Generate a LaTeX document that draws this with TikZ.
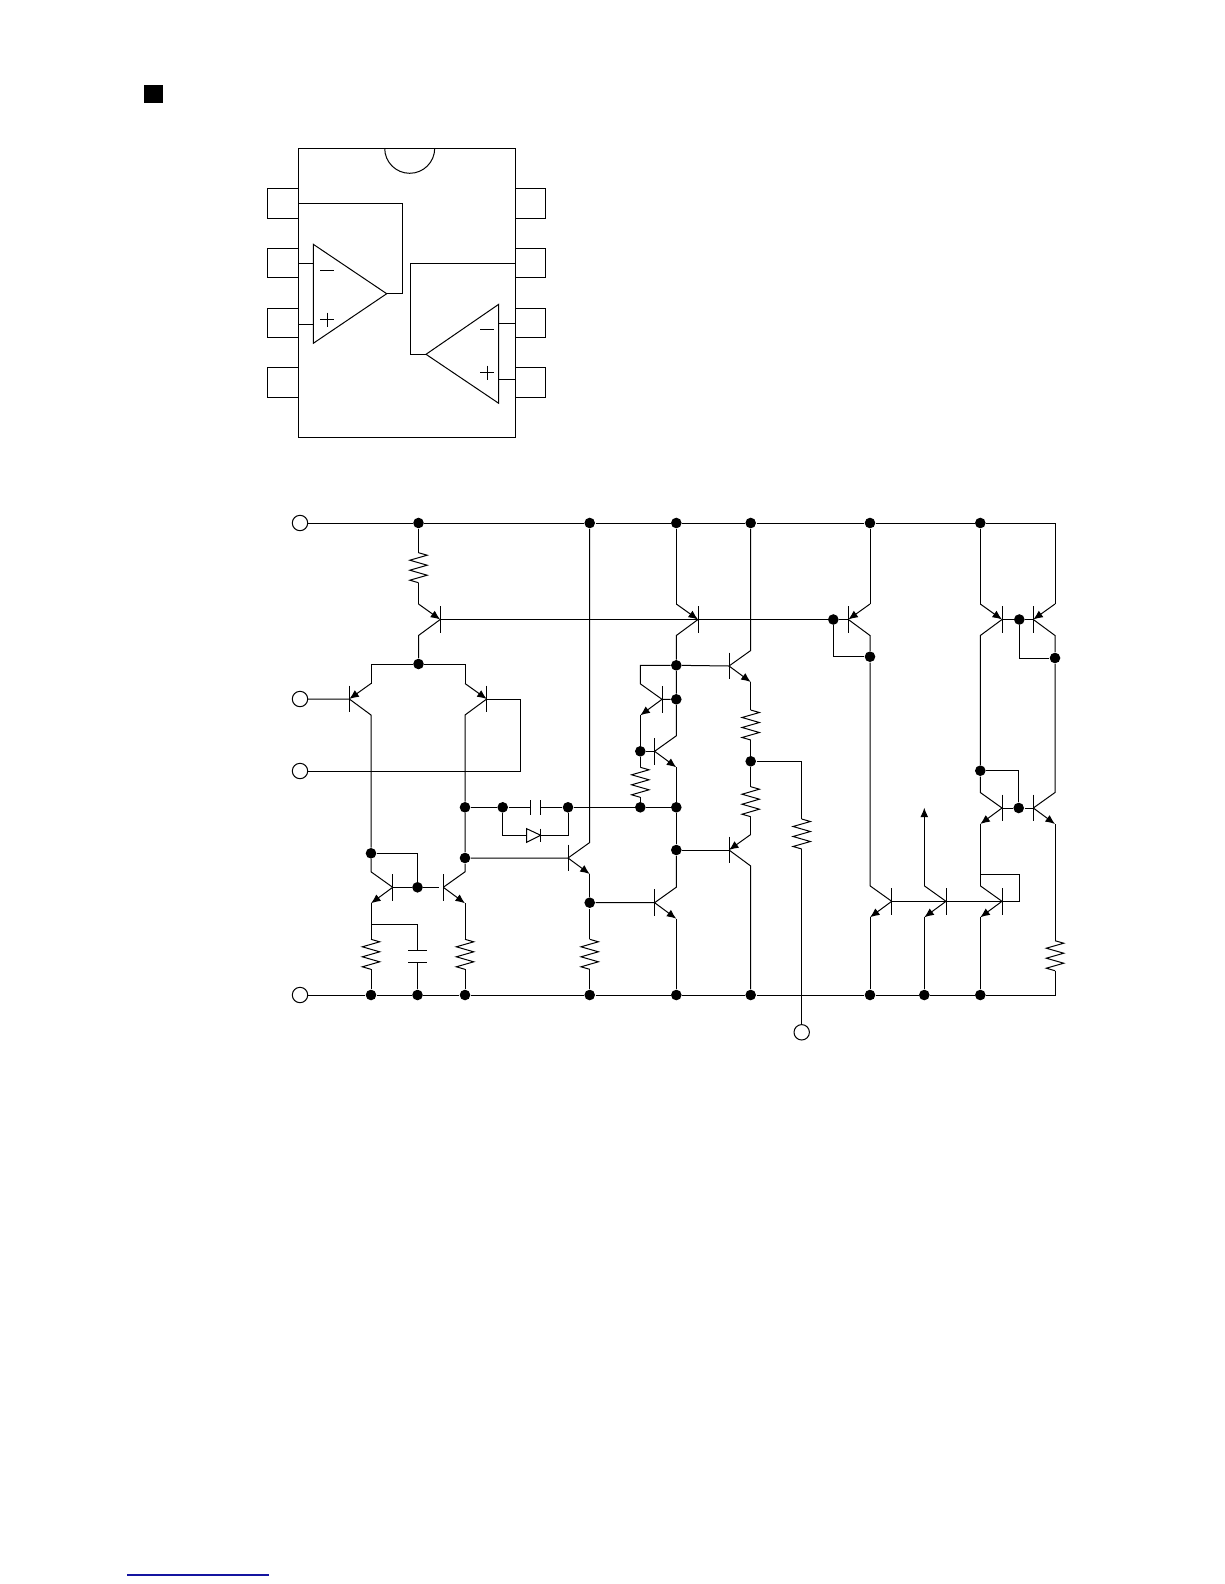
\documentclass[tikz,border=0pt]{standalone}
\usepackage{tikz}
\usetikzlibrary{arrows.meta}
\definecolor{linkblue}{RGB}{20,20,160}
\tikzset{
	dot/.style={circle,fill=black,inner sep=0pt,minimum size=10.6pt},
	term/.style={circle,draw,fill=white,inner sep=0pt,minimum size=15.4pt},
	emit/.style={-{Latex[length=9.5pt,width=8pt]}},
}
% base bar of a transistor: name, x, y, side of the leads
\newcommand{\qbar}[4]{
	\coordinate (#1-b) at (#2,#3);
	\coordinate (#1-t) at ({#2+#4*21.7},{#3-15.5});
	\coordinate (#1-u) at ({#2+#4*21.7},{#3+16});
	\draw (#2,#3-13.3) -- (#2,#3+13.3);
}
% resistor: name, x, top y
\newcommand{\zres}[3]{
	\coordinate (#1-a) at (#2,#3);
	\coordinate (#1-z) at (#2,#3+30);
	\draw (#1-a) -- ++(8.7,2.5) -- ++(-17.4,5) -- ++(17.4,5) -- ++(-17.4,5) -- ++(17.4,5) -- ++(-17.4,5) -- (#1-z);
}
\begin{document}
\begin{tikzpicture}[x=1pt,y=-1pt,line width=1pt,line join=miter]
	\useasboundingbox (0,0) rectangle (1224,1584);
	\fill (144,85) rectangle (162.7,103.3);
	\draw[linkblue,line width=1.3pt] (127,1575) -- (269,1575);

	% package
	\draw (298.3,148.3) rectangle (515,437.3);
	\draw (384.7,148.3) arc[start angle=180,end angle=0,radius=25];
	\foreach \y in {188.3, 248, 308, 367.7} {
		\draw (298.3,\y) -- (267.7,\y) -- (267.7,\y+29.7) -- (298.3,\y+29.7);
		\draw (515,\y) -- (545.7,\y) -- (545.7,\y+29.7) -- (515,\y+29.7);
	}

	% left amplifier
	\draw (313.3,244.3) -- (386.7,293.7) -- (313.3,343.3) -- cycle;
	\draw (386.7,293.7) -- (402.3,293.7) -- (402.3,203.3) -- (298.3,203.3);
	\draw (298.3,263.7) -- (313.3,263.7);
	\draw (298.3,324.3) -- (313.3,324.3);
	\draw (320.3,270.7) -- (334,270.7);
	\draw (320.3,319.7) -- (334,319.7) (327,312.7) -- (327,326.7);

	% right amplifier
	\draw (498.7,304.3) -- (426,354.3) -- (498.7,403.3) -- cycle;
	\draw (426,354.3) -- (410.3,354.3) -- (410.3,263.7) -- (515,263.7);
	\draw (515,323.7) -- (498.7,323.7);
	\draw (515,379) -- (498.7,379);
	\draw (480.3,329) -- (494,329);
	\draw (480.3,372.7) -- (494,372.7) (487,365.7) -- (487,379.7);

	% terminals
	\node[term] (tma) at (300,523) {};
	\node[term] (tmb) at (300,699) {};
	\node[term] (tmc) at (300,771) {};
	\node[term] (tmd) at (300,995) {};
	\node[term] (tme) at (801.7,1032.3) {};

	% rails
	\foreach \n/\x in {1/418.5, 2/589.7, 3/676.3, 4/750.7, 5/870, 6/980.3}
		\node[dot] (tr\n) at (\x,523) {};
	\foreach \n/\x in {1/371, 2/417.5, 3/465, 4/589.7, 5/676.3, 6/750.7, 7/870, 8/924.3, 9/980.3}
		\node[dot] (br\n) at (\x,995) {};
	\coordinate (tre) at (1055,523);
	\coordinate (bre) at (1055,995);

	% junctions
	\foreach \n/\x/\y in {sum/418.5/664, q/371/853.3, m/417.5/887.3, n/465/807.3, p/465/858,
		ca/502.7/807.3, cb/568/807.3, g/589.7/902.7, e/640.3/807.3, f/676.3/807.3, h/676.3/850,
		i/676.3/665.3, j/676.3/699.3, k/640.3/751.3, l/750.7/761.3, o/833.3/619.5, r/870/656.7,
		s/1019.3/619.5, v/1055/658, w/980.3/770.7, z/1018.7/808}
		\node[dot] (d\n) at (\x,\y) {};

	% transistors
	\foreach \n/\x/\y/\s in {a/440.2/619.5/-1, b/349.3/699/1, c/486.7/699/-1, d/392.7/887.3/-1,
		e/443.3/887.3/1, f/568/858/1, g/654.6/902.7/1, h/729/850/1, i/729/666/1, j/662/699.3/-1,
		k/654.6/751.3/1, l/698/619.5/-1, m/848.3/619.5/1, n/891.7/901.3/-1, o/946/901.3/-1,
		p/1002/901.3/-1, r/1002/808/-1, s/1033.3/808/1, t/1002/619.5/-1, u/1033.3/619.5/1}
		{\qbar{q\n}{\x}{\y}{\s}}

	% resistors
	\zres{ra}{418.5}{552.7}
	\zres{rb}{371}{939.3}
	\zres{rc}{465}{939.3}
	\zres{rd}{589.7}{939.3}
	\zres{re}{640.3}{767.3}
	\zres{rf}{750.7}{710}
	\zres{rg}{750.7}{786.7}
	\zres{rh}{801.7}{819}
	\zres{rj}{1055}{940.7}

	\draw (tma) -- (tr1) -- (tr2) -- (tr3) -- (tr4) -- (tr5) -- (tr6) -- (tre) -- (qu-t);
	\draw (tmd) -- (br1) -- (br2) -- (br3) -- (br4) -- (br5) -- (br6) -- (br7) -- (br8) -- (br9) -- (bre) -- (rj-z);

	% input stage
	\draw (tr1) -- (ra-a) (ra-z) -- (qa-t);
	\draw[emit] (qa-t) -- (qa-b);
	\draw (qa-b) -- (qa-u) -- (dsum);
	\draw (qb-t) |- (dsum) -| (qc-t);
	\draw[emit] (qb-t) -- (qb-b);
	\draw[emit] (qc-t) -- (qc-b);
	\draw (tmb) -- (qb-b) -- (qb-u) -- (dq);
	\draw (qc-b) -- (520.3,699) -- (520.3,771) -- (tmc);
	\draw (qc-b) -- (qc-u) -- (dn) -- (dp) -- (qe-t) -- (qe-b);
	\draw (dq) -- (qd-t) -- (qd-b);
	\draw (dq) -| (dm);
	\draw (qd-b) -- (dm) -- (439.3,887.3);
	\draw[emit] (qd-b) -- (qd-u);
	\draw[emit] (qe-b) -- (qe-u);
	\draw (qd-u) -- (rb-a) (rb-z) -- (br1);
	\draw (qe-u) -- (rc-a) (rc-z) -- (br3);
	\coordinate (capc) at (417.5,950.7);
	\coordinate (capd) at (417.5,962.7);
	\draw (371,924.7) -| (capc) (capd) -- (br2);
	\draw (408.2,950.7) -- (426.8,950.7) (408.2,962.7) -- (426.8,962.7);

	% compensation
	\coordinate (capa) at (530.3,807.3);
	\coordinate (capb) at (540.7,807.3);
	\coordinate (dioa) at (526.7,835.3);
	\coordinate (diob) at (540.7,835.3);
	\draw (dn) -- (dca) -- (capa) (capb) -- (dcb) -- (de) -- (df);
	\draw (530.3,800) -- (530.3,815.3) (540.7,800) -- (540.7,815.3);
	\draw (dca) |- (dioa) (diob) -| (dcb);
	\draw (dioa) -- (526.7,828.7) -- (diob) -- (526.7,842.3) -- cycle;
	\draw (540.7,828.7) -- (540.7,842.3);

	% driver
	\draw (dp) -- (qf-b) -- (qf-t) -- (tr2);
	\draw[emit] (qf-b) -- (qf-u);
	\draw (qf-u) -- (dg) -- (rd-a) (rd-z) -- (br4);
	\draw (dg) -- (qg-b) -- (qg-t) -- (dh);
	\draw[emit] (qg-b) -- (qg-u);
	\draw (qg-u) -- (br5);
	\draw (qa-b) -- (ql-b) -- (do) -- (qm-b);
	\draw (tr3) -- (ql-t);
	\draw[emit] (ql-t) -- (ql-b);
	\draw (ql-b) -- (ql-u) -- (di) -- (dj) -- (qk-t) -- (qk-b);
	\draw (di) -- (qi-b) -- (qi-t) -- (tr4);
	\draw[emit] (qi-b) -- (qi-u);
	\draw (qi-u) -- (rf-a) (rf-z) -- (dl) -- (rg-a) (rg-z) -- (qh-t);
	\draw (di) -- (640.3,665.3) -- (qj-t) -- (qj-b) -- (dj);
	\draw[emit] (qj-b) -- (qj-u);
	\draw (qj-u) -- (dk) -- (re-a) (re-z) -- (de);
	\draw (dk) -- (qk-b);
	\draw[emit] (qk-b) -- (qk-u);
	\draw (qk-u) -- (df) -- (dh) -- (qh-b);
	\draw[emit] (qh-t) -- (qh-b);
	\draw (qh-b) -- (qh-u) -- (br6);
	\draw (dl) -| (rh-a) (rh-z) -- (tme);

	% current sources
	\draw (tr5) -- (qm-t);
	\draw[emit] (qm-t) -- (qm-b);
	\draw (qm-b) -- (qm-u) -- (dr) -- (qn-t) -- (qn-b);
	\draw (do) |- (dr);
	\draw[emit] (qn-b) -- (qn-u);
	\draw (qn-u) -- (br7);
	\draw (qn-b) -- (qo-b) -- (qp-b) -- (1019.7,901.3) -- (1019.7,874) -- (980.3,874);
	\coordinate (qo-end) at (924.3,807.7);
	\draw (qo-b) -- (qo-t);
	\draw[emit] (qo-t) -- (qo-end);
	\draw[emit] (qo-b) -- (qo-u);
	\draw (qo-u) -- (br8);
	\draw (qp-b) -- (qp-t);
	\draw[emit] (qp-b) -- (qp-u);
	\draw (qp-u) -- (br9);

	% output mirrors
	\draw (tr6) -- (qt-t);
	\draw[emit] (qt-t) -- (qt-b);
	\draw[emit] (qu-t) -- (qu-b);
	\draw (qt-b) -- (ds) -- (qu-b);
	\draw (ds) |- (dv);
	\draw (qt-b) -- (qt-u) -- (dw) -- (qr-t) -- (qr-b);
	\draw (qu-b) -- (qu-u) -- (dv) -- (qs-t) -- (qs-b);
	\draw (dw) -| (dz);
	\draw (qr-b) -- (dz) -- (qs-b);
	\draw[emit] (qr-b) -- (qr-u);
	\draw[emit] (qs-b) -- (qs-u);
	\draw (qr-u) -- (qp-t);
	\draw (qs-u) -- (rj-a);
\end{tikzpicture}
\end{document}
